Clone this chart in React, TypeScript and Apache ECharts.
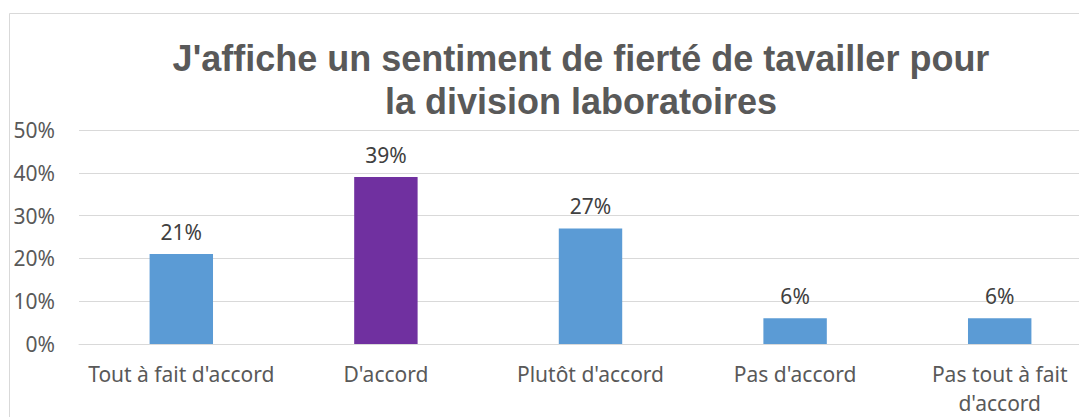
import React, { useEffect, useRef } from "react";
import * as echarts from "echarts";

const categories = [
  "Tout à fait d'accord",
  "D'accord",
  "Plutôt d'accord",
  "Pas d'accord",
  "Pas tout à fait\nd'accord",
];
const values = [0.21, 0.39, 0.27, 0.06, 0.06];
const barColors = ["#5B9BD5", "#7030A0", "#5B9BD5", "#5B9BD5", "#5B9BD5"];
const titleText = "J'affiche un sentiment de fierté de tavailler pour\nla division laboratoires";

export default function App() {
  const ref = useRef<HTMLDivElement>(null);
  useEffect(() => {
    if (!ref.current) return;
    const chart = echarts.init(ref.current, undefined, { renderer: "svg" });
    const labelFont = "'Noto Sans', sans-serif";
    chart.setOption({
      animation: false,
      graphic: [
        {
          type: "rect",
          shape: { x: 9.5, y: 13.5, width: 1300, height: 600 },
          style: { fill: "none", stroke: "#D9D9D9", lineWidth: 1 },
          silent: true,
        },
        {
          type: "text",
          x: 581,
          y: 37,
          style: {
            text: titleText,
            textAlign: "center",
            fill: "#595959",
            font: "bold 36px 'Liberation Sans', Arial, sans-serif",
            lineHeight: 43,
          },
        },
      ],
      grid: { left: 79, top: 130, bottom: 71, right: 38, containLabel: false },
      xAxis: {
        type: "category",
        data: categories,
        axisLine: { lineStyle: { color: "#D9D9D9" } },
        axisTick: { show: false },
        axisLabel: {
          color: "#595959",
          fontFamily: labelFont,
          fontSize: 21,
          lineHeight: 29,
          margin: 15,
          interval: 0,
        },
      },
      yAxis: {
        type: "value",
        min: 0,
        max: 0.5,
        interval: 0.1,
        axisLine: { show: false },
        axisTick: { show: false },
        splitLine: { lineStyle: { color: "#D9D9D9" } },
        axisLabel: {
          color: "#595959",
          fontFamily: labelFont,
          fontSize: 21,
          margin: 24,
          formatter: (v: number) => Math.round(v * 100) + "%",
        },
      },
      series: [
        {
          type: "bar",
          barWidth: "31%",
          data: values.map((v, i) => ({ value: v, itemStyle: { color: barColors[i] } })),
          label: {
            show: true,
            position: "top",
            distance: 12,
            color: "#404040",
            fontFamily: labelFont,
            fontSize: 21,
            formatter: (p: any) => Math.round(p.value * 100) + "%",
          },
        },
      ],
    });
    return () => chart.dispose();
  }, []);
  return (
    <div style={{ width: 1079, height: 417, position: "absolute", left: 0, top: 0, overflow: "hidden" }}>
      <div ref={ref} style={{ width: 1140, height: 417 }} />
    </div>
  );
}
